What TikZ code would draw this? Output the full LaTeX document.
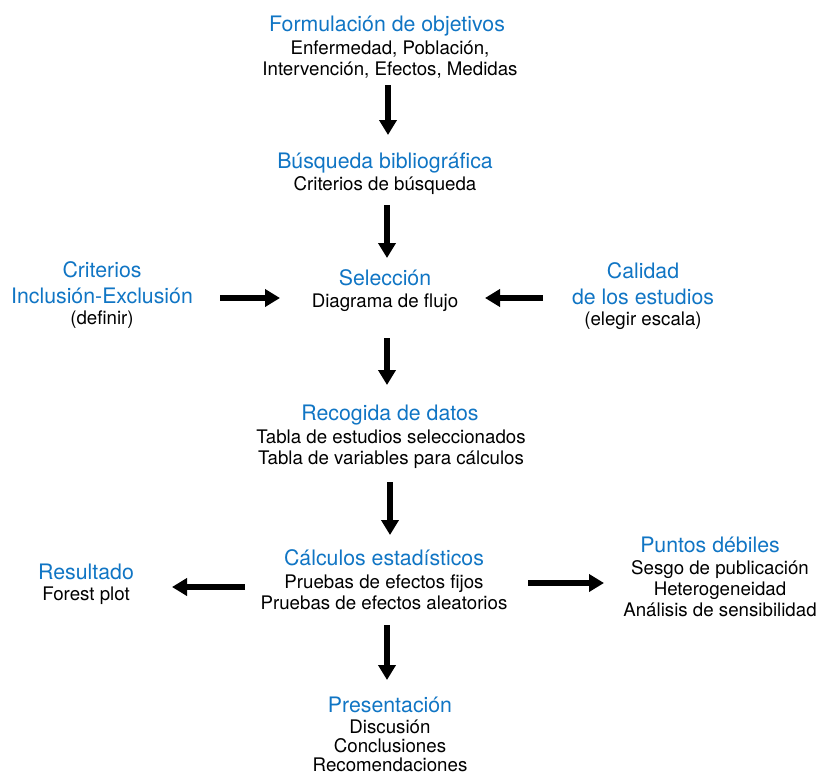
\documentclass[tikz,border=0pt]{standalone}
\usepackage{fontspec}
\setmainfont{TeX Gyre Heros}
\usetikzlibrary{arrows.meta}
\definecolor{myblue}{RGB}{16,117,196}
\begin{document}
\begin{tikzpicture}[x=1pt,y=-1pt,
  ttl/.style={text=myblue,font=\fontsize{21.3}{25}\selectfont,anchor=base,inner sep=0pt},
  bod/.style={text=black,font=\fontsize{18.7}{21}\selectfont,anchor=base,inner sep=0pt},
  arr/.style={line width=6.5pt,-{Triangle[length=15pt,width=17pt]}}]
\useasboundingbox (0,0) rectangle (819,774);
% Formulacion
\node[ttl] (f0) at (387,31.5) {Formulación de objetivos};
\node[bod] (f1) at (390,54.5) {Enfermedad, Población,};
\node[bod] (f2) at (390,75.5) {Intervención, Efectos, Medidas};
% Busqueda
\node[ttl] (b0) at (385,168) {Búsqueda bibliográfica};
\node[bod] (b1) at (385,190) {Criterios de búsqueda};
% Seleccion
\node[ttl] (s0) at (385,285) {Selección};
\node[bod] (s1) at (385,307) {Diagrama de flujo};
% Criterios
\node[ttl] (c0) at (102,277) {Criterios};
\node[ttl] (c1) at (102,303) {Inclusión-Exclusión};
\node[bod] (c2) at (102,324) {(definir)};
% Calidad
\node[ttl] (q0) at (643,278) {Calidad};
\node[ttl] (q1) at (643,304) {de los estudios};
\node[bod] (q2) at (643,325) {(elegir escala)};
% Recogida
\node[ttl] (r0) at (390,420) {Recogida de datos};
\node[bod] (r1) at (391,443) {Tabla de estudios seleccionados};
\node[bod] (r2) at (391,464) {Tabla de variables para cálculos};
% Calculos
\node[ttl] (k0) at (384,565) {Cálculos estadísticos};
\node[bod] (k1) at (384,588) {Pruebas de efectos fijos};
\node[bod] (k2) at (384,609) {Pruebas de efectos aleatorios};
% Resultado
\node[ttl] (e0) at (86,579) {Resultado};
\node[bod] (e1) at (86,600) {Forest plot};
% Puntos
\node[ttl] (p0) at (710,552) {Puntos débiles};
\node[bod] (p1) at (720,574) {Sesgo de publicación};
\node[bod] (p2) at (720,595) {Heterogeneidad};
\node[bod] (p3) at (720,616) {Análisis de sensibilidad};
% Presentacion
\node[ttl] (n0) at (390,712) {Presentación};
\node[bod] (n1) at (390,733) {Discusión};
\node[bod] (n2) at (390,752.5) {Conclusiones};
\node[bod] (n3) at (390,771) {Recomendaciones};
% arrow coordinates
\coordinate (a1s) at (388,85);  \coordinate (a1e) at (388,135);
\coordinate (a2s) at (387,205); \coordinate (a2e) at (387,258);
\coordinate (a3s) at (387,338); \coordinate (a3e) at (387,385);
\coordinate (a4s) at (390,482); \coordinate (a4e) at (390,535);
\coordinate (a5s) at (387,625); \coordinate (a5e) at (387,680);
\coordinate (h1s) at (220,298); \coordinate (h1e) at (280,298);
\coordinate (h2s) at (543,298); \coordinate (h2e) at (485,298);
\coordinate (h3s) at (245,587); \coordinate (h3e) at (172,587);
\coordinate (h4s) at (528,583); \coordinate (h4e) at (604,583);
\foreach \a in {a1,a2,a3,a4,a5,h1,h2,h3,h4}
  \draw[arr] (\a s) -- (\a e);
\end{tikzpicture}
\end{document}
